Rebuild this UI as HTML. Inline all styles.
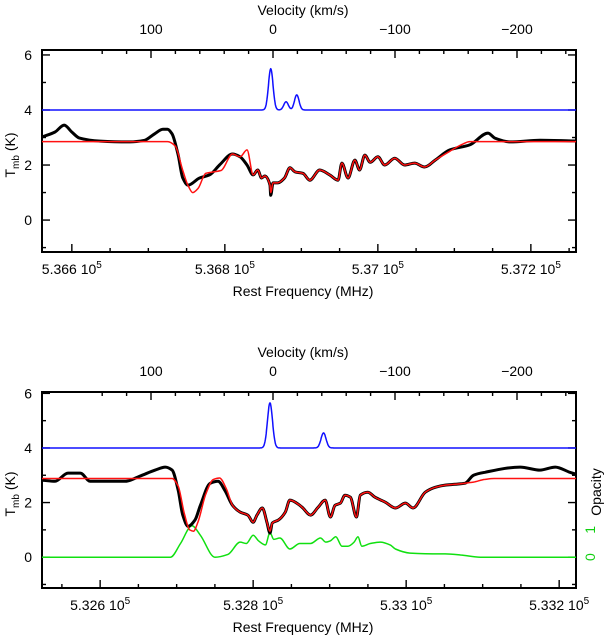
<!DOCTYPE html>
<html><head><meta charset="utf-8"><style>
html,body{margin:0;padding:0;background:#fff;}
svg{display:block;font-family:"Liberation Sans",sans-serif;}
</style></head><body>
<svg id="chart" width="606" height="641" viewBox="0 0 606 641" xmlns="http://www.w3.org/2000/svg"></svg>
<script>
// ---- Panel 1 data (frequency MHz, T in K) ----
const topObsFreq=[536561,536578,536590,536600,536610,536637,536676,536695,536708,536719,536725,536731,536739,536745,536752,536767,536780,536793,536810,536820,536829,536837,536843,536848,536852,536859,536860,536863,536869,536878,536885,536892,536902,536911,536924,536937,536948,536953,536961,536970,536976,536983,536990,537000,537009,537022,537035,537048,537061,537075,537094,537120,537144,537153,537173,537212,537259];
const topObsT=[3.02,3.2,3.45,3.2,2.98,2.87,2.84,2.9,3.13,3.3,3.3,3.13,2.36,1.53,1.27,1.53,1.64,2.0,2.4,2.3,2.0,1.64,1.82,1.53,1.6,1.27,0.9,1.35,1.35,1.53,1.9,1.75,1.7,1.45,1.82,1.64,1.45,2.07,1.53,2.18,1.82,2.36,2.1,2.3,2.0,2.25,2.0,2.07,1.93,2.18,2.55,2.73,3.16,2.98,2.84,2.9,2.87];
const topFitFreq=[536561,536725,536735,536745,536752,536758,536765,536775,536785,536795,536810,536820,536829,536837,536843,536848,536852,536859,536860,536863,536869,536878,536885,536892,536902,536911,536924,536937,536948,536953,536961,536970,536976,536983,536990,537000,537009,537022,537035,537048,537061,537075,537094,537110,537120,537259];
const topFitT=[2.85,2.85,2.7,1.8,1.25,1.0,1.15,1.7,1.75,1.8,2.4,2.3,2.55,1.64,1.82,1.53,1.6,1.27,1.0,1.35,1.35,1.53,1.9,1.75,1.7,1.45,1.82,1.64,1.45,2.07,1.53,2.18,1.82,2.36,2.1,2.3,2.0,2.25,2.0,2.07,1.93,2.18,2.5,2.75,2.85,2.85];
const topPeakFreq=[536860,536880,536894];
const topPeakAmp=[1.5,0.3,0.55];
const topPeakWidth=[3,3,3];
// ---- Panel 2 data ----
const botObsFreq=[532524,532541,532558,532574,532587,532613,532633,532652,532672,532685,532694,532702,532708,532715,532724,532731,532744,532754,532763,532773,532783,532793,532800,532805,532812,532818,532822,532825,532833,532842,532848,532861,532865,532875,532885,532894,532901,532907,532914,532920,532927,532935,532940,532950,532959,532973,532986,532999,533009,533025,533038,533051,533064,533077,533088,533103,533149,533175,533195,533214,533222];
const botObsT=[2.82,2.78,3.08,3.08,2.78,2.78,2.78,2.97,3.19,3.3,3.19,2.45,1.54,1.13,1.36,1.9,2.71,2.78,2.45,1.9,1.65,1.54,1.28,1.54,1.8,1.28,0.88,1.25,1.36,1.65,2.09,1.9,1.8,1.54,1.83,2.09,1.47,1.9,1.98,2.27,2.2,1.47,2.27,2.38,2.2,2.01,1.8,1.98,1.8,2.38,2.56,2.64,2.67,2.71,3.0,3.11,3.3,3.19,3.3,3.11,3.04];
const botFitFreq=[532524,532694,532702,532710,532717,532722,532728,532738,532748,532756,532765,532773,532783,532793,532800,532805,532812,532818,532822,532825,532833,532842,532848,532861,532865,532875,532885,532894,532901,532907,532914,532920,532927,532935,532940,532950,532959,532973,532986,532999,533009,533025,533038,533051,533064,533077,533088,533103,533115,533222];
const botFitT=[2.88,2.88,2.6,1.6,1.0,0.95,1.3,2.3,2.85,2.9,2.5,1.9,1.65,1.54,1.28,1.54,1.8,1.28,0.95,1.25,1.36,1.65,2.09,1.9,1.8,1.54,1.83,2.09,1.47,1.9,1.98,2.27,2.2,1.47,2.27,2.38,2.2,2.01,1.8,1.98,1.8,2.38,2.56,2.64,2.67,2.71,2.75,2.85,2.88,2.88];
const botTauFreq=[532524,532692,532705,532720,532731,532750,532767,532783,532791,532800,532807,532816,532822,532827,532835,532848,532861,532875,532888,532895,532901,532908,532916,532924,532932,532937,532942,532953,532966,532979,532986,533005,533044,533051,533071,533097,533222];
const botTau=[0,0,0.5,1.15,0.8,0,0.1,0.55,0.5,0.8,0.6,0.45,0.9,0.65,0.7,0.3,0.5,0.5,0.7,0.55,0.6,0.75,0.4,0.4,0.55,0.75,0.4,0.5,0.55,0.45,0.3,0.15,0.12,0.12,0.08,0,0];
const botPeakFreq=[532822,532892];
const botPeakAmp=[1.65,0.55];
const botPeakWidth=[3.3,3.3];
// ---- axis ticks ----
const yMajorTicks=[0,2,4,6];
const yMinorTicks=[-1,1,3,5];
const velMajorTicks=[100,0,-100,-200];
const velTickLabels=["100","0","\u2212100","\u2212200"];
const topFreqTicks=[536600,536800,537000,537200];
const topFreqLabels=["5.366","5.368","5.37","5.372"];
const botFreqTicks=[532600,532800,533000,533200];
const botFreqLabels=["5.326","5.328","5.33","5.332"];

const NS="http://www.w3.org/2000/svg";
const svg=document.getElementById('chart');
function mk(tag,attrs,parent){const e=document.createElementNS(NS,tag);for(const k in attrs)e.setAttribute(k,attrs[k]);(parent||svg).appendChild(e);return e;}

// monotone cubic interpolation in x (no overshoot)
function monoPath(px,py){
  const n=px.length;
  const dx=[],s=[];
  for(let i=0;i<n-1;i++){dx.push(px[i+1]-px[i]);s.push((py[i+1]-py[i])/(px[i+1]-px[i]));}
  const m=new Array(n);
  m[0]=s[0];m[n-1]=s[n-2];
  for(let i=1;i<n-1;i++){
    if(s[i-1]*s[i]<=0)m[i]=0;
    else{const w1=2*dx[i]+dx[i-1],w2=dx[i]+2*dx[i-1];m[i]=(w1+w2)/(w1/s[i-1]+w2/s[i]);}
  }
  let d='M'+px[0].toFixed(1)+' '+py[0].toFixed(1);
  for(let i=0;i<n-1;i++){
    const h=dx[i]/3;
    d+=` C${(px[i]+h).toFixed(1)} ${(py[i]+m[i]*h).toFixed(1)} ${(px[i+1]-h).toFixed(1)} ${(py[i+1]-m[i+1]*h).toFixed(1)} ${px[i+1].toFixed(1)} ${py[i+1].toFixed(1)}`;
  }
  return d;
}

function panel(cfg){
  const L=42,R=576,T=cfg.top,B=cfg.bottom;
  const g=mk('g',{});
  
  
  const xs=f=>L+(f-cfg.f0)*(R-L)/(cfg.f1-cfg.f0);
  const ys=v=>B-(v-cfg.ymin)*(B-T)/(cfg.ymax-cfg.ymin);
  const xv=v=>cfg.v0x-cfg.vpx*v;
  const fr=mk('rect',{x:L,y:T,width:R-L,height:B-T,fill:'none',stroke:'#000','stroke-width':2},g);
  
  
  yMajorTicks.forEach(v=>{
    const y=ys(v);
    mk('line',{x1:L,x2:L+8,y1:y,y2:y,stroke:'#000','stroke-width':1.4},g);
    mk('line',{x1:R,x2:R-8,y1:y,y2:y,stroke:'#000','stroke-width':1.4},g);
    const t=mk('text',{x:L-10,y:y+5,'text-anchor':'end','font-size':14},g);t.textContent=v;
    
    
  });
  yMinorTicks.forEach(v=>{const y=ys(v);
    mk('line',{x1:L,x2:L+4,y1:y,y2:y,stroke:'#000','stroke-width':1.4},g);
    mk('line',{x1:R,x2:R-4,y1:y,y2:y,stroke:'#000','stroke-width':1.4},g);});
  for(let f=Math.ceil(cfg.f0/50)*50;f<=cfg.f1;f+=50){
    const x=xs(f);const maj=(f%200===0);
    mk('line',{x1:x,x2:x,y1:B,y2:B-(maj?8:4),stroke:'#000','stroke-width':1.4},g);
  }
  cfg.fTicks.forEach((f,i)=>{
    const t=mk('text',{x:xs(f),y:B+22,'text-anchor':'middle','font-size':14},g);
    t.innerHTML=cfg.fLabels[i]+' 10<tspan dy="-6" font-size="10">5</tspan>';
    
    
  });
  for(let v=-240;v<=140;v+=20){
    const x=xv(v);if(x<L||x>R)continue;const maj=(v%100===0);
    mk('line',{x1:x,x2:x,y1:T,y2:T+(maj?8:4),stroke:'#000','stroke-width':1.4},g);
  }
  velMajorTicks.forEach((v,i)=>{
    const t=mk('text',{x:xv(v),y:T-16,'text-anchor':'middle','font-size':14},g);t.textContent=velTickLabels[i];
    
    
  });
  const vt=mk('text',{x:303,y:T-35,'text-anchor':'middle','font-size':14},g);vt.textContent='Velocity (km/s)';
  
  
  const xt=mk('text',{x:303,y:B+44,'text-anchor':'middle','font-size':14},g);xt.textContent='Rest Frequency (MHz)';
  
  
  const yt=mk('text',{transform:`translate(15,${(T+B)/2+4}) rotate(-90)`,'text-anchor':'middle','font-size':14},g);
  yt.innerHTML='T<tspan dy="4" font-size="10">mb</tspan><tspan dy="-4">  (K)</tspan>';
  
  
  const cid='clip'+cfg.name;
  const cp=mk('clipPath',{id:cid},g);mk('rect',{x:L,y:T,width:R-L,height:B-T},cp);
  function line(fx,fy,color,w,name,smooth){
    let d;
    if(smooth) d=monoPath(fx.map(xs),fy.map(ys));
    else d=fx.map((f,i)=>(i?'L':'M')+xs(f).toFixed(1)+' '+ys(fy[i]).toFixed(1)).join(' ');
    const p=mk('path',{d:d,fill:'none',stroke:color,'stroke-width':w,'stroke-linejoin':'round','clip-path':`url(#${cid})`},g);
    
    
  }
  const bx=[],by=[];
  for(let f=cfg.f0;f<=cfg.f1;f+=0.5){
    let v=4;cfg.pF.forEach((c,i)=>{v+=cfg.pA[i]*Math.exp(-0.5*Math.pow((f-c)/cfg.pW[i],2));});
    bx.push(f);by.push(v);
  }
  line(bx,by,'#1010ff',1.5,'line-profile-blue',false);
  if(cfg.tauF) line(cfg.tauF,cfg.tau,'#10e010',1.5,'opacity-green',true);
  line(cfg.obsF,cfg.obsT,'#000',3,'observed-spectrum',true);
  line(cfg.fitF,cfg.fitT,'#ff1010',1.5,'model-fit-red',true);
  return {xs,ys};
}

panel({name:'panel-top',top:50,bottom:252,f0:536561,f1:537259,ymin:-1.16,ymax:6.18,v0x:273,vpx:1.22,
  fTicks:topFreqTicks,fLabels:topFreqLabels,obsF:topObsFreq,obsT:topObsT,fitF:topFitFreq,fitT:topFitT,
  pF:topPeakFreq,pA:topPeakAmp,pW:topPeakWidth});
const p2=panel({name:'panel-bottom',top:392,bottom:588,f0:532524,f1:533222,ymin:-1.13,ymax:6.05,v0x:273,vpx:1.22,
  fTicks:botFreqTicks,fLabels:botFreqLabels,obsF:botObsFreq,obsT:botObsT,fitF:botFitFreq,fitT:botFitT,
  pF:botPeakFreq,pA:botPeakAmp,pW:botPeakWidth,tauF:botTauFreq,tau:botTau});
[0,1].forEach(v=>{
  const y=p2.ys(v);
  const t=mk('text',{transform:`translate(595,${y}) rotate(-90)`,'text-anchor':'middle','font-size':14,fill:'#10d010'});
  t.textContent=v;
  
  
});
const ot=mk('text',{transform:'translate(601,492) rotate(-90)','text-anchor':'middle','font-size':14});
ot.textContent='Opacity';


</script>
</body></html>
